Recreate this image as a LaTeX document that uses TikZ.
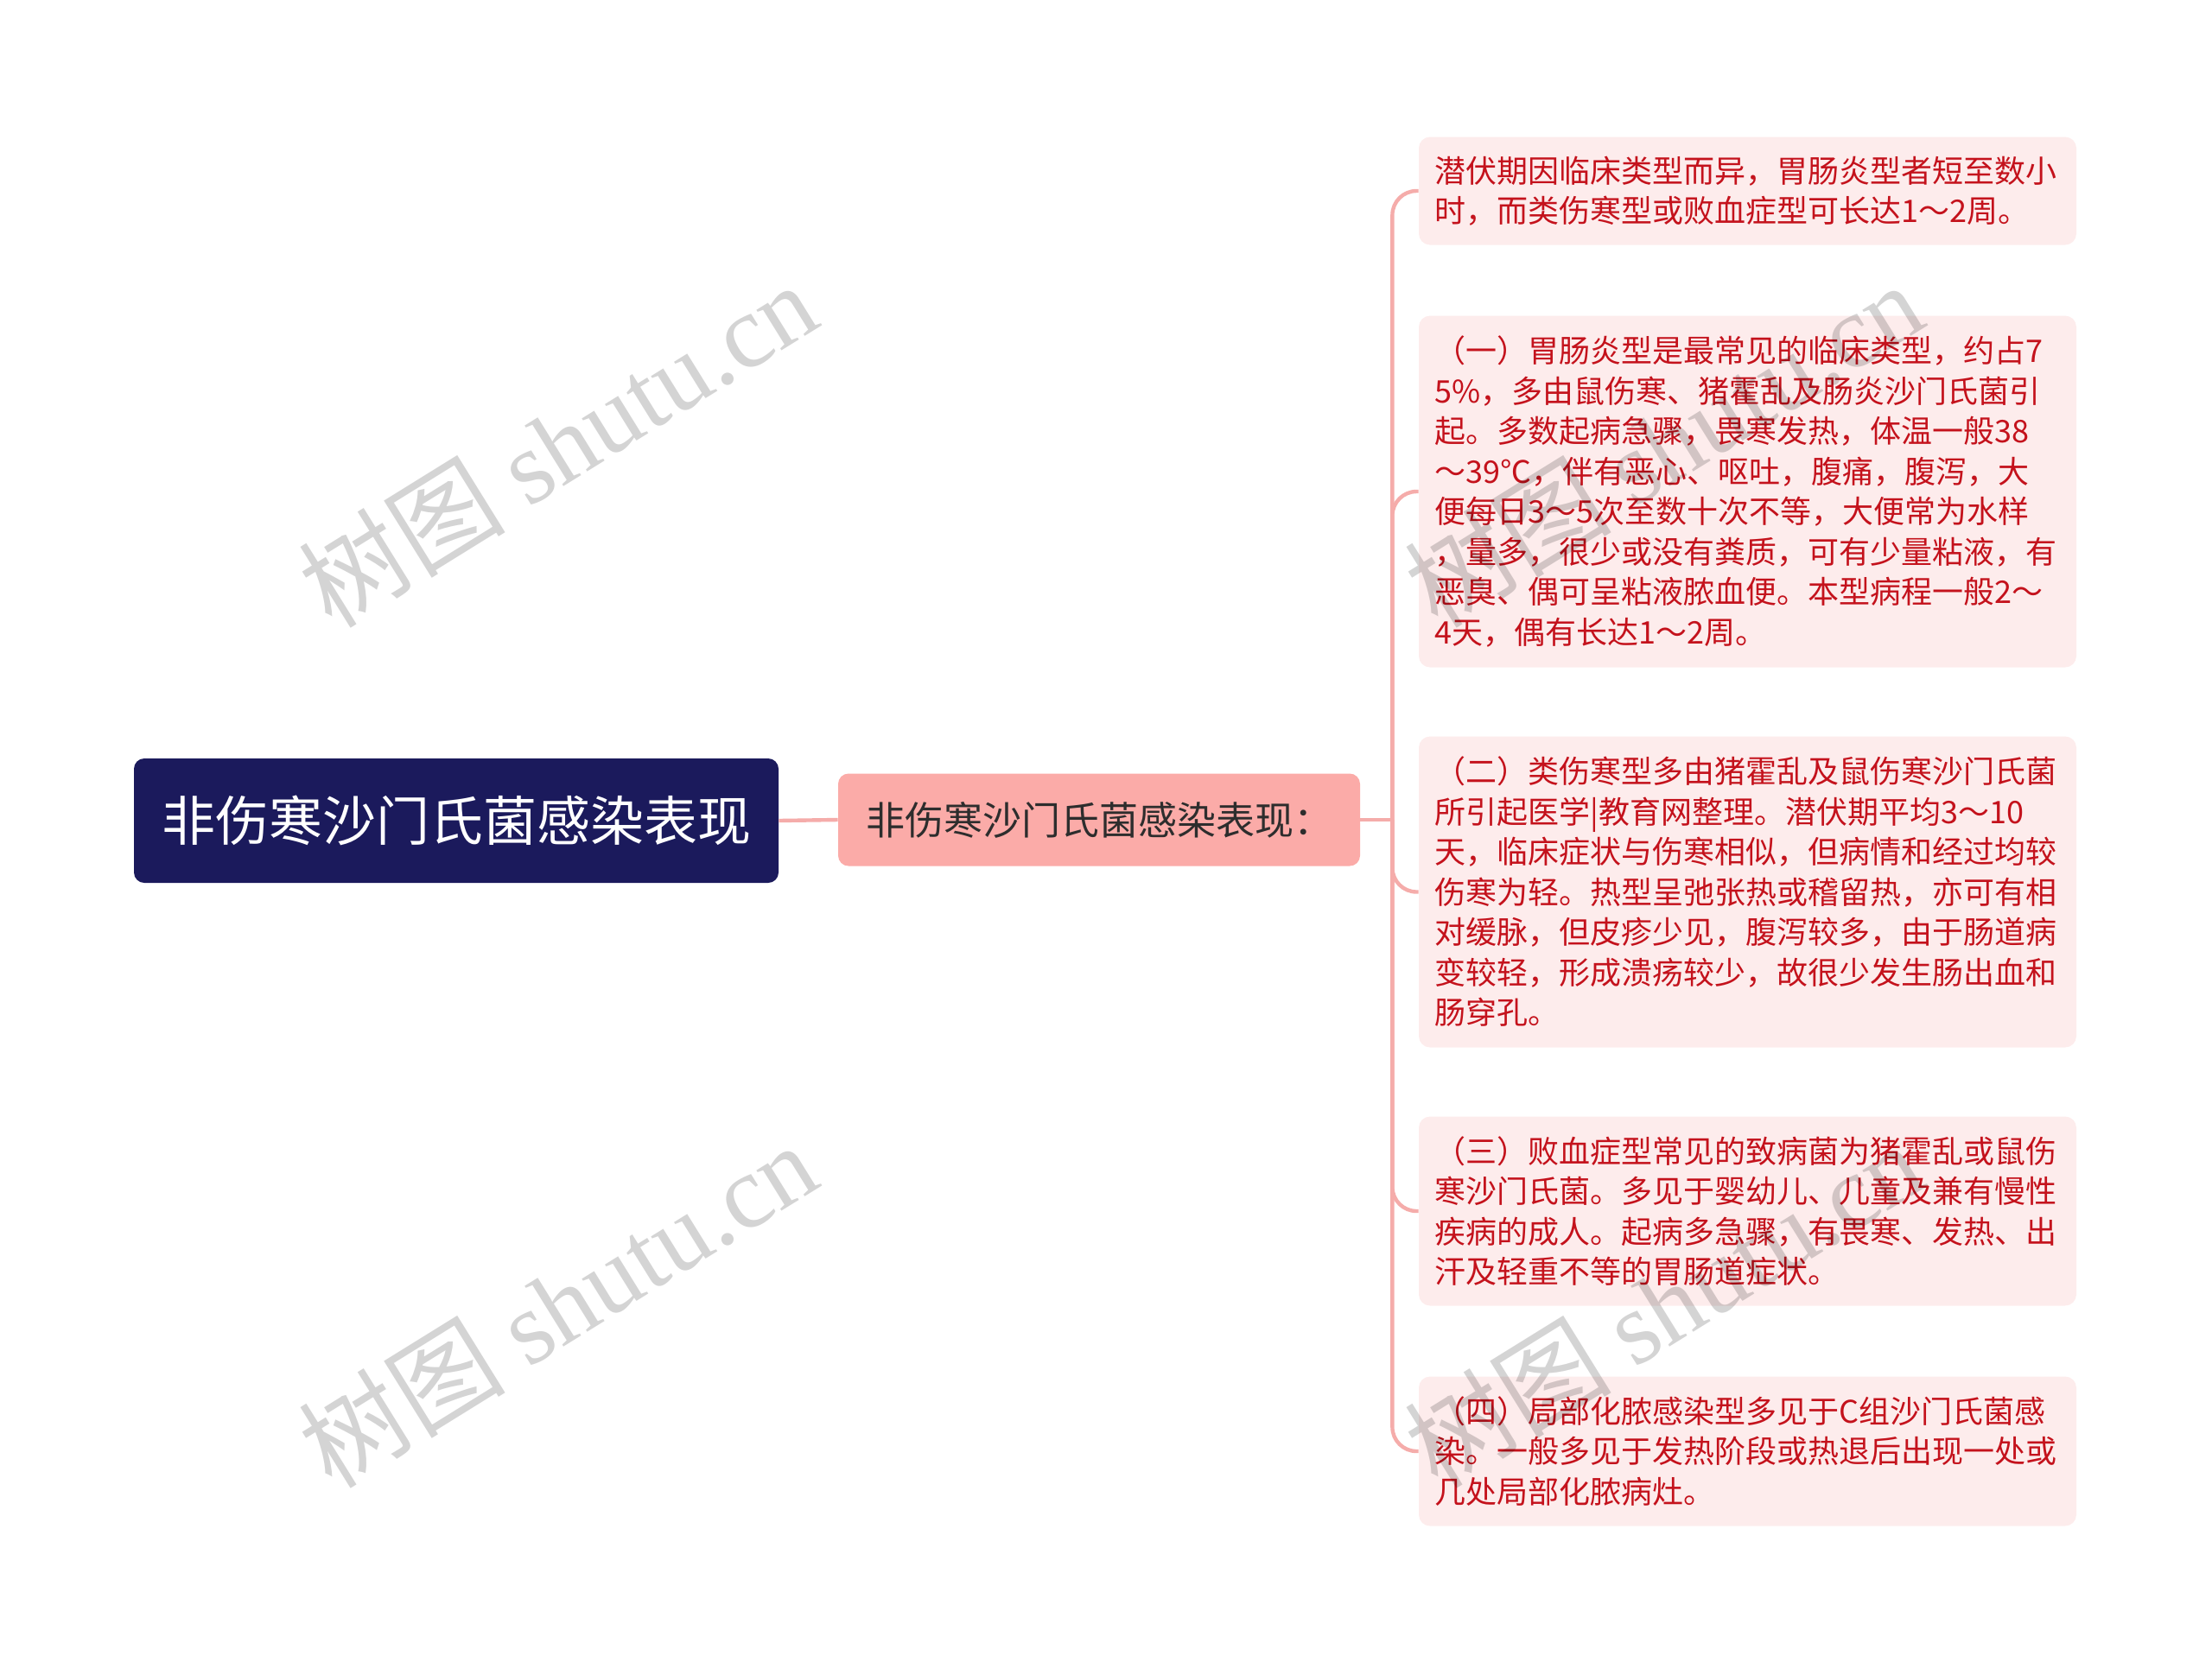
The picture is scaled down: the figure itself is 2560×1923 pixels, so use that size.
\documentclass[tikz,border=0pt]{standalone}
\usepackage{fontspec}
\usepackage{tikz}
\newfontfamily\cjk{Noto Sans CJK SC}
\newfontfamily\wmlatin{Liberation Serif}
\definecolor{rootnavy}{RGB}{27, 26, 92}
\definecolor{midpink}{RGB}{251, 171, 168}
\definecolor{midtext}{RGB}{45, 45, 45}
\definecolor{leafpink}{RGB}{253, 236, 236}
\definecolor{leafred}{RGB}{196, 18, 28}
\definecolor{linkpink}{RGB}{245, 172, 170}

\begin{document}
\begin{tikzpicture}[
  x=0.5pt, y=-0.5pt,
  rootbox/.style={fill=rootnavy, rounded corners=6pt, minimum width=373pt, minimum height=72pt, inner sep=0pt, text=white, font=\cjk\fontsize{31pt}{36pt}\selectfont},
  midbox/.style={fill=midpink, rounded corners=6pt, minimum width=302pt, minimum height=53.5pt, inner sep=0pt, text=midtext, font=\cjk\fontsize{22.5pt}{26pt}\selectfont},
  leafbox/.style={fill=leafpink, rounded corners=6.5pt, text width=362pt, inner xsep=9.25pt, inner ysep=2pt, align=left, text=leafred, font=\cjk\fontsize{18pt}{23.25pt}\selectfont},
  link/.style={draw=linkpink, line width=2.2pt},
  wmark/.style={rotate=31.8, text=black, text opacity=0.17, font=\cjk\fontsize{60pt}{64pt}\selectfont}
]
  \useasboundingbox (0,0) rectangle (2560,1923);

  \node[rootbox] (root) at (528, 950) {非伤寒沙门氏菌感染表现};
  \node[midbox] (mid) at (1272, 949) {非伤寒沙门氏菌感染表现：};

  \node[leafbox, minimum height=62.5pt] (incub) at (2022.5, 221) {潜伏期因临床类型而异，胃肠炎型者短至数小\\时，而类伤寒型或败血症型可长达1～2周。};
  \node[leafbox, minimum height=203.5pt] (gastro) at (2022.5, 569) {（一）胃肠炎型是最常见的临床类型，约占7\\5\%，多由鼠伤寒、猪霍乱及肠炎沙门氏菌引\\起。多数起病急骤，畏寒发热，体温一般38\\～39℃，伴有恶心、呕吐，腹痛，腹泻，大\\便每日3～5次至数十次不等，大便常为水样\\，量多，很少或没有粪质，可有少量粘液，有\\恶臭、偶可呈粘液脓血便。本型病程一般2～\\4天，偶有长达1～2周。};
  \node[leafbox, minimum height=180pt] (typhoid) at (2022.5, 1032.5) {（二）类伤寒型多由猪霍乱及鼠伤寒沙门氏菌\\所引起医学|教育网整理。潜伏期平均3～10\\天，临床症状与伤寒相似，但病情和经过均较\\伤寒为轻。热型呈弛张热或稽留热，亦可有相\\对缓脉，但皮疹少见，腹泻较多，由于肠道病\\变较轻，形成溃疡较少，故很少发生肠出血和\\肠穿孔。};
  \node[leafbox, minimum height=109.5pt] (sepsis) at (2022.5, 1402) {（三）败血症型常见的致病菌为猪霍乱或鼠伤\\寒沙门氏菌。多见于婴幼儿、儿童及兼有慢性\\疾病的成人。起病多急骤，有畏寒、发热、出\\汗及轻重不等的胃肠道症状。};
  \node[leafbox, minimum height=86.5pt] (local) at (2022.5, 1680) {（四）局部化脓感染型多见于C组沙门氏菌感\\染。一般多见于发热阶段或热退后出现一处或\\几处局部化脓病灶。};

  \coordinate (hub) at ([xshift=18.5pt]mid.east);
  \draw[link] (root.east) -- (mid.west);
  \draw[link] (mid.east) -- (hub);
  \foreach \leaf in {incub, gastro, typhoid, sepsis, local}
    \draw[link, rounded corners=14pt] (hub) |- (\leaf.west);

  \foreach \wx/\wy [count=\i] in {645/514, 1925/514, 645/1510, 1925/1510}
    \node[wmark] (wm\i) at (\wx, \wy) {树图 {\wmlatin shutu.cn}};
\end{tikzpicture}
\end{document}
